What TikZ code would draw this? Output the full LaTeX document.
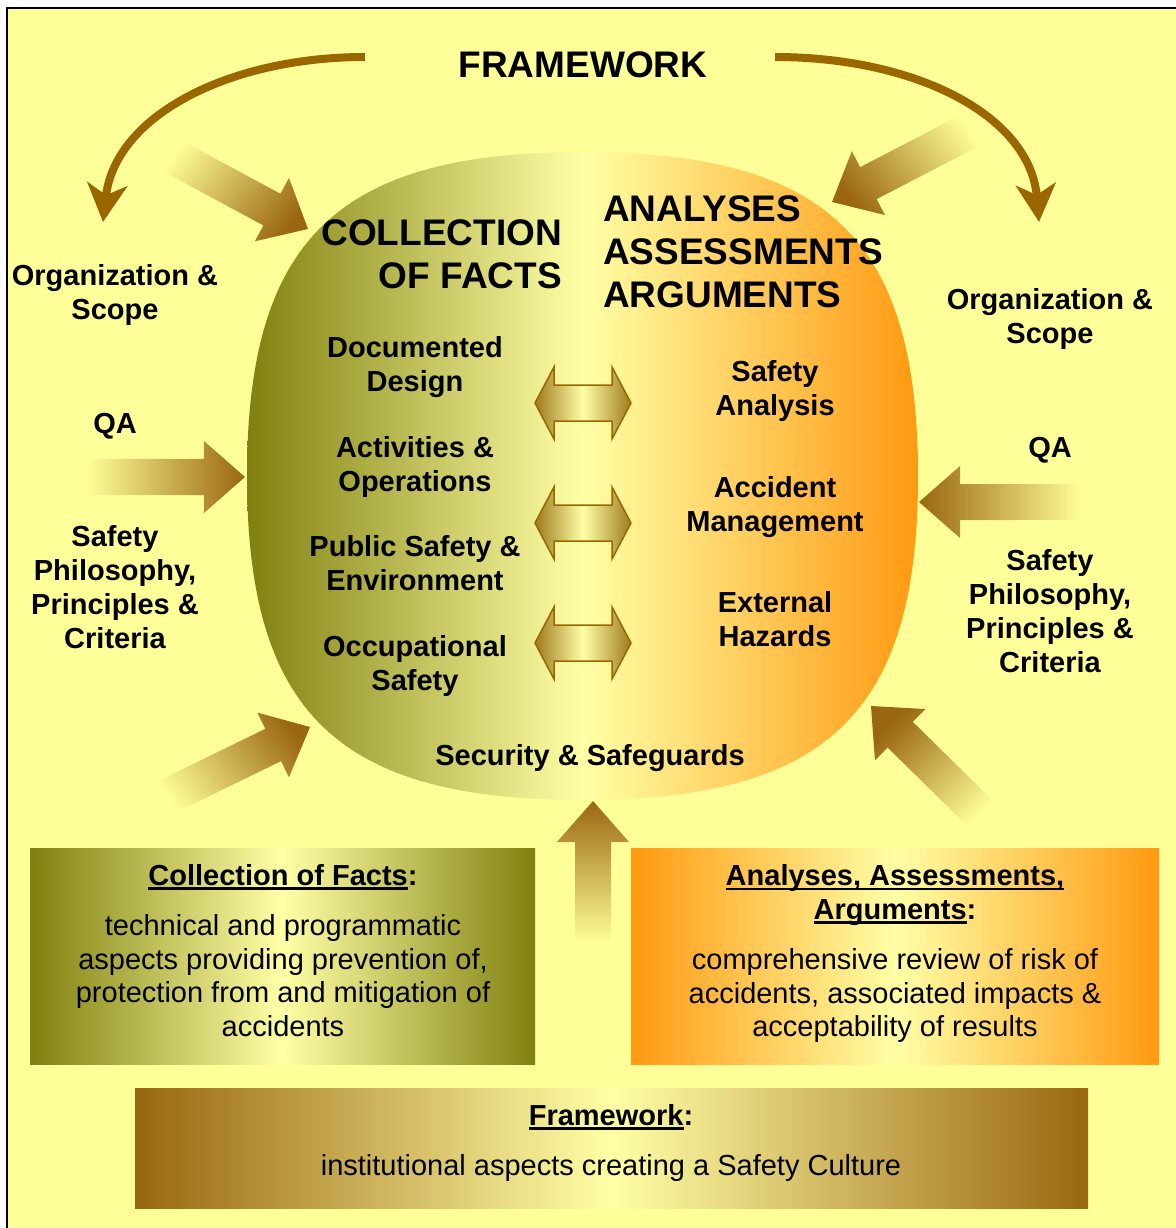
\documentclass[tikz,border=0pt]{standalone}
\usepackage{fontspec}
\setmainfont{Liberation Sans}
\usetikzlibrary{arrows.meta, positioning, fadings}

\definecolor{bgyellow}{HTML}{FFFF99}
\definecolor{paleyellow}{HTML}{FFFFA6}
\definecolor{olivegreen}{HTML}{808010}
\definecolor{deeporange}{HTML}{FF9911}
\definecolor{arrowbrown}{HTML}{996600}
\definecolor{headbrown}{HTML}{9A6612}
\definecolor{swapend}{HTML}{9E7A1E}
\definecolor{fwbrown}{HTML}{996611}

\tikzfading[name=tailfade, left color=transparent!100, right color=transparent!0]

\newcommand{\ulword}[1]{\setbox0=\hbox{#1}\rlap{\rule[-4.5pt]{\wd0}{2.4pt}}\box0}

\begin{document}
\begin{tikzpicture}[
        x=1pt, y=-1pt,
        lbl/.style={font=\fontsize{29}{34}\selectfont\bfseries, align=center, inner sep=0pt},
        bighead/.style={font=\fontsize{37}{43}\selectfont\bfseries, inner sep=0pt},
        body/.style={font=\fontsize{29}{33.5}\selectfont, align=center, inner sep=0pt},
        bentarrow/.style={line width=8pt, draw=arrowbrown, -{Stealth[length=38pt, width=40pt, inset=11pt]}},
        swaparrow/.style={draw=arrowbrown, line width=1.5pt, left color=swapend, right color=swapend, middle color=paleyellow},
        infobox/.style={rectangle, inner sep=0pt, anchor=north west}
    ]
    \useasboundingbox (0,0) rectangle (1175,1228);

    % background
    \fill[white] (0,0) rectangle (1175,1228);
    \draw[fill=bgyellow, line width=2pt] (7,8) rectangle (1190,1240);

    % central oval
    \path[left color=olivegreen, right color=deeporange, middle color=paleyellow]
        (918,476) .. controls (918,239.5) and (827.4,152) .. (582.5,152)
        .. controls (337.6,152) and (247,239.5) .. (247,476)
        .. controls (247,712.5) and (337.6,800) .. (582.5,800)
        .. controls (827.4,800) and (918,712.5) .. (918,476) -- cycle;

    % two-way arrows between the halves
    \foreach \y in {403,523,643} {
        \path[swaparrow] (535,\y) -- (554,\y-36) -- (554,\y-18) -- (612,\y-18)
            -- (612,\y-36) -- (631,\y) -- (612,\y+36) -- (612,\y+18)
            -- (554,\y+18) -- (554,\y+36) -- cycle;
    }

    % fading block arrows: tip x / tip y / angle / length
    \foreach \tx/\ty/\ang/\len in
        {308/229/-28.3/162, 310/727/26/167, 832/202/-152.6/163, 871/706/135.5/163,
         245/477/0/158, 919/502/180/163, 593/801/90/142} {
        \begin{scope}[shift={(\tx,\ty)}, rotate=\ang]
            \fill[headbrown, path fading=tailfade, fading angle=\ang]
                (0,0) -- (-41,-36) -- (-41,-18) -- (-\len,-18) -- (-\len,18)
                -- (-41,18) -- (-41,36) -- cycle;
        \end{scope}
    }

    % framework arrows
    \coordinate (fwL) at (365,57);
    \coordinate (fwR) at (775,57);
    \coordinate (orgLtop) at (103,222);
    \coordinate (orgRtop) at (1039,222);
    \draw[bentarrow] (fwL) .. controls (230,57) and (115,115) .. (orgLtop);
    \draw[bentarrow] (fwR) .. controls (915,57) and (1030,115) .. (orgRtop);

    % headings
    \node[bighead] (fwhead) at (583,65) {FRAMEWORK};
    \node[bighead, anchor=east, align=right] (collhead) at (562,254) {COLLECTION\\OF FACTS};
    \node[bighead, anchor=west, align=left] (anahead) at (603,252) {ANALYSES\\ASSESSMENTS\\ARGUMENTS};

    % facts
    \node[lbl] (docdesign) at (415,367) {Documented\\Design};
    \node[lbl] (actops) at (415,466.5) {Activities \&\\Operations};
    \node[lbl] (pubsafety) at (415,563) {Public Safety \&\\Environment};
    \node[lbl] (occsafety) at (415,666) {Occupational\\Safety};

    % analyses
    \node[lbl] (safetyana) at (775,391) {Safety\\Analysis};
    \node[lbl] (accmgmt) at (775,507) {Accident\\Management};
    \node[lbl] (exthaz) at (775,619.5) {External\\Hazards};
    \node[lbl] (security) at (590,758) {Security \& Safeguards};

    % framework side labels
    \node[lbl] (orgL) at (115,295) {Organization \&\\Scope};
    \node[lbl] (qaL) at (115,426) {QA};
    \node[lbl] (philL) at (115,587) {Safety\\Philosophy,\\Principles \&\\Criteria};
    \node[lbl] (orgR) at (1050,319) {Organization \&\\Scope};
    \node[lbl] (qaR) at (1050,450) {QA};
    \node[lbl] (philR) at (1050,611) {Safety\\Philosophy,\\Principles \&\\Criteria};

    % explanation boxes
    \node[infobox, left color=olivegreen, right color=olivegreen, middle color=paleyellow,
        minimum width=505pt, minimum height=216pt] (factsbox) at (30,848) {};
    \node[infobox, left color=deeporange, right color=deeporange, middle color=paleyellow,
        minimum width=528pt, minimum height=216pt] (anabox) at (631,848) {};
    \node[infobox, left color=fwbrown, right color=fwbrown, middle color=paleyellow,
        minimum width=953pt, minimum height=120pt] (fwbox) at (135,1088) {};

    \node[body] (factstitle) at (283,877) {\bfseries\ulword{Collection of Facts}:};
    \node[body] (factstext) at (283,975.5) {technical and programmatic\\aspects providing prevention of,\\protection from and mitigation of\\accidents};
    \node[body] (anatitle) at (895,895) {\bfseries\ulword{Analyses, Assessments,}\\\bfseries\ulword{Arguments}:};
    \node[body] (anatext) at (895,995.5) {comprehensive review of risk of\\accidents, associated impacts \&\\acceptability of results};
    \node[body] (fwtitle) at (611,1117) {\bfseries\ulword{Framework}:};
    \node[body] (fwtext) at (611,1168) {institutional aspects creating a Safety Culture};

\end{tikzpicture}
\end{document}
